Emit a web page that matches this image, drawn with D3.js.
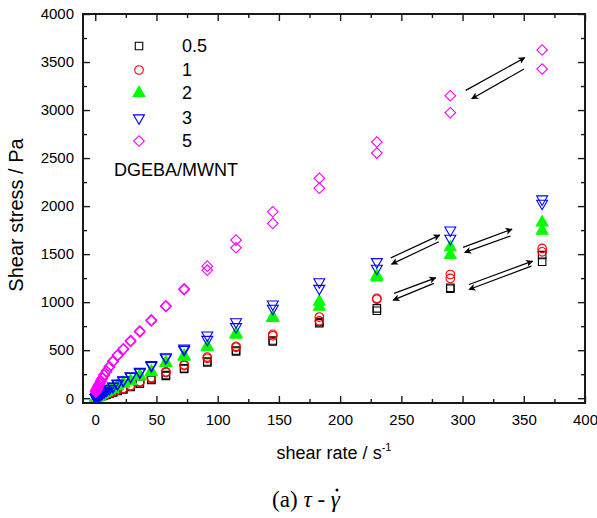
<!DOCTYPE html>
<html>
<head>
<meta charset="utf-8">
<script src="https://cdn.jsdelivr.net/npm/d3@7/dist/d3.min.js"></script>
<style>
  html, body { margin: 0; padding: 0; background: #fff; }
  svg { display: block; }
  text { font-family: Arial, "Liberation Sans", sans-serif; fill: #000; }
</style>
</head>
<body>
<svg id="chart" width="597" height="518"></svg>
<script>
// Shear rates (s^-1), ten points per decade
const shearRates = [0.458, 0.576, 0.725, 0.913, 1.15, 1.45, 1.82, 2.29, 2.89, 3.64,
  4.58, 5.76, 7.25, 9.13, 11.5, 14.5, 18.2, 22.9, 28.9, 36.4,
  45.8, 57.7, 72.6, 91.5, 115, 145, 183, 230, 290, 365];

// Shear stress (Pa), ramp up and ramp down, per MWNT loading
const stress05Up   = [2, 2.5, 3, 4, 5, 6, 8, 10, 12.5, 16, 20, 25, 31, 39, 49, 62, 79, 96, 120, 155, 197, 240, 312, 382, 497, 600, 792, 935, 1150, 1490];
const stress05Down = [2, 2.5, 3, 4, 5, 6, 7.5, 9.5, 12, 15, 19, 24, 30, 37, 47, 60, 76, 92, 116, 150, 190, 232, 305, 372, 487, 590, 780, 910, 1140, 1420];
const stress1Up    = [2.5, 3, 4, 5, 6, 7.5, 9, 11, 14, 17, 22, 27, 34, 43, 54, 67, 85, 103, 130, 172, 215, 275, 348, 428, 540, 665, 845, 1040, 1288, 1559];
const stress1Down  = [2.5, 3, 4, 5, 6, 7, 8.5, 10.5, 13, 16, 21, 26, 33, 41, 52, 65, 82, 100, 126, 166, 208, 268, 340, 415, 530, 650, 805, 1030, 1247, 1524];
const stress2Up    = [3.5, 4.5, 5.5, 7, 9, 11, 14, 18, 22, 28, 35, 43, 53, 66, 82, 101, 127, 155, 180, 232, 278, 372, 440, 540, 672, 845, 1003, 1275, 1570, 1830];
const stress2Down  = [3.5, 4.5, 5.5, 7, 8.5, 10.5, 13.5, 17, 21, 27, 34, 42, 52, 64, 80, 98, 123, 150, 175, 226, 270, 365, 432, 530, 660, 835, 951, 1255, 1490, 1743];
const stress3Up    = [5, 6, 7.5, 9.5, 12, 16, 20, 24, 30, 37, 45, 55, 68, 83, 102, 125, 155, 190, 232, 278, 348, 430, 520, 656, 795, 979, 1211, 1420, 1750, 2073];
const stress3Down  = [5, 6, 7.5, 9, 11.5, 15, 19, 23, 29, 36, 44, 54, 66, 81, 99, 121, 150, 184, 225, 270, 338, 420, 505, 611, 743, 934, 1142, 1351, 1663, 2028];
const stress5Up    = [68, 73, 78, 84, 91, 100, 110, 122, 137, 156, 180, 208, 243, 283, 330, 388, 450, 515, 600, 700, 815, 962, 1140, 1375, 1646, 1941, 2290, 2667, 3149, 3625];
const stress5Down  = [66, 71, 76, 82, 89, 97, 107, 119, 134, 152, 176, 204, 238, 277, 323, 380, 441, 506, 590, 690, 805, 955, 1130, 1333, 1566, 1820, 2187, 2552, 2972, 3427];

const seriesLabels = ["0.5", "1", "2", "3", "5"];
const seriesColors = ["#000000", "#ff0000", "#00ff00", "#0000ff", "#ff00ff"];
const seriesShapes = ["square", "circle", "triangle", "invTriangle", "diamond"];
const seriesUp   = [stress05Up, stress1Up, stress2Up, stress3Up, stress5Up];
const seriesDown = [stress05Down, stress1Down, stress2Down, stress3Down, stress5Down];

const xTicks = [0, 50, 100, 150, 200, 250, 300, 350, 400];
const yTicks = [0, 500, 1000, 1500, 2000, 2500, 3000, 3500, 4000];

// Sweep-direction arrows, in data units: [x1, y1, x2, y2]
const sweepArrows = [
  [302.6, 3205, 350.8, 3545], [350.2, 3427, 307.5, 3118],
  [241.4, 1461, 281.4, 1698], [280.6, 1628, 242.0, 1396],
  [300.4, 1570, 340.4, 1760], [339.1, 1688, 301.8, 1518],
  [244.1, 1091, 278.1, 1253], [276.5, 1195, 243.3, 1021],
  [305.3, 1184, 357.1, 1427], [356.2, 1375, 305.3, 1132]
];

const svg = d3.select("#chart");
const plot = { left: 83, right: 585, top: 14, bottom: 403 };

const x = d3.scaleLinear().domain([-10, 400]).range([plot.left, plot.right]);
const y = d3.scaleLinear().domain([-50, 4000]).range([plot.bottom, plot.top]);

const axisColor = "#1a1a1a";
const fmt = d3.format("d");

// Minor ticks on all four sides
const xMinor = d3.range(25, 400, 50);
const yMinor = d3.range(250, 4000, 500);

function tickGroup(axis, transform) {
  const g = svg.append("g").attr("transform", transform).call(axis);
  g.select(".domain").remove();
  g.selectAll(".tick line").attr("stroke", axisColor).attr("stroke-width", 1.4);
  return g;
}

// bottom
const gxb = tickGroup(d3.axisBottom(x).tickValues(xTicks).tickFormat(fmt).tickSize(-7).tickPadding(11), `translate(0,${plot.bottom})`);
gxb.selectAll("text").attr("font-size", 15).attr("font-family", "Arial, 'Liberation Sans', sans-serif").attr("fill", "#000");
tickGroup(d3.axisBottom(x).tickValues(xMinor).tickSize(-4).tickFormat(""), `translate(0,${plot.bottom})`);
// top
tickGroup(d3.axisTop(x).tickValues(xTicks).tickSize(-7).tickFormat(""), `translate(0,${plot.top})`);
tickGroup(d3.axisTop(x).tickValues(xMinor).tickSize(-4).tickFormat(""), `translate(0,${plot.top})`);
// left
const gyl = tickGroup(d3.axisLeft(y).tickValues(yTicks).tickFormat(fmt).tickSize(-7).tickPadding(9), `translate(${plot.left},0)`);
gyl.selectAll("text").attr("font-size", 15).attr("font-family", "Arial, 'Liberation Sans', sans-serif").attr("fill", "#000");
tickGroup(d3.axisLeft(y).tickValues(yMinor).tickSize(-4).tickFormat(""), `translate(${plot.left},0)`);
// right
tickGroup(d3.axisRight(y).tickValues(yTicks).tickSize(-7).tickFormat(""), `translate(${plot.right},0)`);
tickGroup(d3.axisRight(y).tickValues(yMinor).tickSize(-4).tickFormat(""), `translate(${plot.right},0)`);

// frame
svg.append("rect")
  .attr("x", plot.left).attr("y", plot.top)
  .attr("width", plot.right - plot.left).attr("height", plot.bottom - plot.top)
  .attr("fill", "none").attr("stroke", axisColor).attr("stroke-width", 2);

// marker generators
function markerPath(shape) {
  switch (shape) {
    case "square": return d3.symbol(d3.symbolSquare, 56)();
    case "circle": return d3.symbol(d3.symbolCircle, 58)();
    case "triangle": return d3.symbol(d3.symbolTriangle, 60)();
    case "invTriangle": return d3.symbol(d3.symbolTriangle, 52)();
    case "diamond": return d3.symbol(d3.symbolSquare, 56)();
  }
}
function markerRotation(shape) {
  if (shape === "invTriangle") return 180;
  if (shape === "diamond") return 45;
  return 0;
}
function styleMarker(sel, i) {
  const shape = seriesShapes[i];
  const filled = shape === "triangle";
  sel.attr("d", markerPath(shape))
    .attr("fill", filled ? seriesColors[i] : "none")
    .attr("stroke", seriesColors[i])
    .attr("stroke-width", 1.1);
}

svg.append("defs").append("clipPath").attr("id", "plotClip")
  .append("rect").attr("x", plot.left).attr("y", plot.top)
  .attr("width", plot.right - plot.left).attr("height", plot.bottom - plot.top);

const marks = svg.append("g").attr("clip-path", "url(#plotClip)");

seriesLabels.forEach((label, i) => {
  [seriesUp[i], seriesDown[i]].forEach(values => {
    const pts = shearRates.map((r, k) => ({ r, s: values[k] }));
    marks.append("g").selectAll("path").data(pts).join("path")
      .call(sel => styleMarker(sel, i))
      .attr("transform", d => `translate(${x(d.r)},${y(d.s)}) rotate(${markerRotation(seriesShapes[i])})`);
  });
});

// arrows
svg.append("defs").append("marker")
  .attr("id", "arrowHead").attr("viewBox", "0 0 10 10")
  .attr("refX", 9).attr("refY", 5)
  .attr("markerWidth", 10).attr("markerHeight", 7)
  .attr("markerUnits", "userSpaceOnUse")
  .attr("orient", "auto")
  .append("path").attr("d", "M0,0 L10,5 L0,10 L2.5,5 Z").attr("fill", "#000");

svg.append("g").selectAll("line").data(sweepArrows).join("line")
  .attr("x1", d => x(d[0])).attr("y1", d => y(d[1]))
  .attr("x2", d => x(d[2])).attr("y2", d => y(d[3]))
  .attr("stroke", "#000").attr("stroke-width", 1.2)
  .attr("marker-end", "url(#arrowHead)");

// legend
const legend = svg.append("g");
const legendRowY = [46, 70, 93, 118, 141];
seriesLabels.forEach((label, i) => {
  legend.append("path")
    .call(sel => styleMarker(sel, i))
    .attr("transform", `translate(139,${legendRowY[i]}) rotate(${markerRotation(seriesShapes[i])})`);
  legend.append("text")
    .attr("x", 182).attr("y", legendRowY[i]).attr("dy", "0.36em")
    .attr("font-size", 18).text(label);
});
legend.append("text")
  .attr("x", 114).attr("y", 170).attr("dy", "0.36em")
  .attr("font-size", 18).text("DGEBA/MWNT");

// axis titles
svg.append("text")
  .attr("transform", "translate(23,215) rotate(-90)")
  .attr("text-anchor", "middle")
  .attr("font-size", 20)
  .text("Shear stress / Pa");

const xTitle = svg.append("text")
  .attr("x", 334).attr("y", 459)
  .attr("text-anchor", "middle")
  .attr("font-size", 18);
xTitle.append("tspan").text("shear rate / s");
xTitle.append("tspan").attr("font-size", 11).attr("dy", -8).text("-1");

// caption: (a) tau - gamma-dot
const caption = svg.append("text")
  .attr("x", 306).attr("y", 507)
  .attr("text-anchor", "middle")
  .attr("font-size", 23)
  .style("font-family", "'Times New Roman', 'Liberation Serif', serif");
caption.append("tspan").text("(a)  ");
caption.append("tspan").attr("font-style", "italic").text("τ");
caption.append("tspan").text(" - ");
const gammaSpan = caption.append("tspan").attr("font-style", "italic").text("γ");
const gb = gammaSpan.node().getBBox();
svg.append("circle")
  .attr("cx", gb.x + gb.width * 0.62)
  .attr("cy", 507 - 17)
  .attr("r", 1.5)
  .attr("fill", "#000");
</script>
</body>
</html>
